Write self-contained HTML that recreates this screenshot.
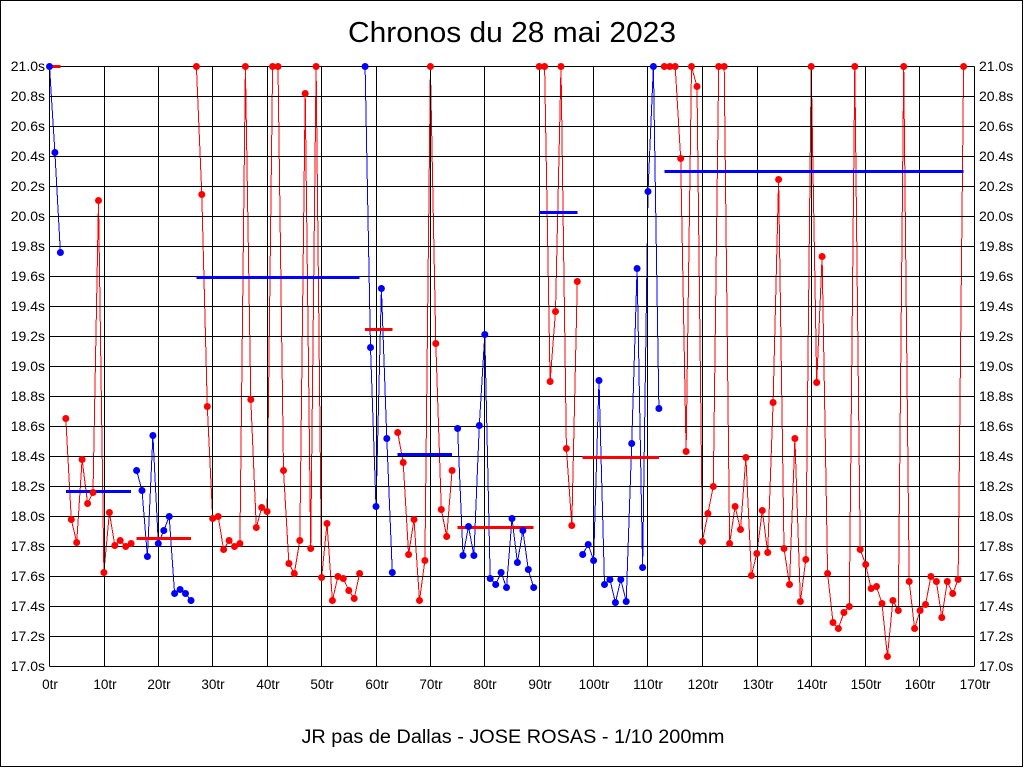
<!DOCTYPE html>
<html>
<head>
<meta charset="utf-8">
<style>
html,body{margin:0;padding:0;background:#fff;}
svg{display:block;}
text{font-family:"Liberation Sans",Arial,sans-serif;fill:#000;}
</style>
</head>
<body>
<svg width="1024" height="768" viewBox="0 0 1024 768" xmlns="http://www.w3.org/2000/svg">
<rect x="0" y="0" width="1024" height="768" fill="#fff"/>
<rect x="0.5" y="0.5" width="1022" height="766" fill="none" stroke="#000" stroke-width="1" shape-rendering="crispEdges"/>

<text x="512" y="42" font-size="29" text-anchor="middle" textLength="328" lengthAdjust="spacingAndGlyphs">Chronos du 28 mai 2023</text>
<text x="513" y="743" font-size="19" text-anchor="middle" textLength="423" lengthAdjust="spacingAndGlyphs">JR pas de Dallas - JOSE ROSAS - 1/10 200mm</text>

<g transform="translate(0.5,0.5)">
<!-- series lines -->
<g fill="none" stroke-width="1" shape-rendering="crispEdges">
<polyline stroke="#0000ff" points="49,66 54.4,152 59.9,252"/>
<polyline stroke="#ff0000" points="65.3,418 70.8,519 76.2,542 81.6,459 87.1,503 92.5,492 98,200 103.4,572 108.9,512 114.3,545 119.7,540 125.2,546 130.6,543"/>
<polyline stroke="#0000ff" points="136.1,470 141.5,490 146.9,556 152.4,435 157.8,543 163.3,530 168.7,516 174.1,593 179.6,589 185,593 190.5,600"/>
<polyline stroke="#ff0000" points="195.9,66 201.3,194 206.8,406 212.2,518 217.7,516 223.1,549 228.6,540 234,546 239.4,543 244.9,66 250.3,399 255.8,527 261.2,507 266.6,511 272.1,66 277.5,66 283,470 288.4,563 293.8,573 299.3,540 304.7,93 310.2,548 315.6,66 321.1,577 326.5,523 331.9,600 337.4,576 342.8,578 348.3,590 353.7,598 359.1,573"/>
<polyline stroke="#0000ff" points="364.6,66 370,347 375.5,506 380.9,288 386.3,438 391.8,572"/>
<polyline stroke="#ff0000" points="397.2,432 402.7,462 408.1,554 413.5,519 419,600 424.4,560 429.9,66 435.3,343 440.8,509 446.2,536 451.6,470"/>
<polyline stroke="#0000ff" points="457.1,428 462.5,555 468,526 473.4,555 478.8,425 484.3,334 489.7,578 495.2,584 500.6,572 506,587 511.5,518 516.9,562 522.4,530 527.8,569 533.2,587"/>
<polyline stroke="#ff0000" points="538.7,66 544.1,66 549.6,381 555,311 560.5,66 565.9,448 571.3,525 576.8,281"/>
<polyline stroke="#0000ff" points="582.2,554 587.7,544 593.1,560 598.5,380 604,584 609.4,579 614.9,602 620.3,579 625.7,601 631.2,443 636.6,268 642.1,567 647.5,191 652.9,66 658.4,408"/>
<polyline stroke="#ff0000" points="663.8,66 669.3,66 674.7,66 680.2,158 685.6,451 691,66 696.5,86 701.9,541 707.4,513 712.8,486 718.2,66 723.7,66 729.1,543 734.6,506 740,529 745.4,457 750.9,575 756.3,553 761.8,510 767.2,552 772.6,402 778.1,179 783.5,548 789,584 794.4,438 799.9,601 805.3,559 810.7,66 816.2,382 821.6,256 827.1,573 832.5,622 837.9,628 843.4,612 848.8,606 854.3,66 859.7,549 865.2,564 870.6,588 876,586 881.5,603 886.9,656 892.4,600 897.8,610 903.2,66 908.7,581 914.1,628 919.6,610 925,604 930.4,576 935.9,581 941.3,617 946.8,581 952.2,593 957.6,579 963.1,66"/>
</g>

<!-- grid -->
<g stroke="#000" stroke-width="1" shape-rendering="crispEdges">
<line x1="49" y1="66" x2="974" y2="66"/>
<line x1="49" y1="96" x2="974" y2="96"/>
<line x1="49" y1="126" x2="974" y2="126"/>
<line x1="49" y1="156" x2="974" y2="156"/>
<line x1="49" y1="186" x2="974" y2="186"/>
<line x1="49" y1="216" x2="974" y2="216"/>
<line x1="49" y1="246" x2="974" y2="246"/>
<line x1="49" y1="276" x2="974" y2="276"/>
<line x1="49" y1="306" x2="974" y2="306"/>
<line x1="49" y1="336" x2="974" y2="336"/>
<line x1="49" y1="366" x2="974" y2="366"/>
<line x1="49" y1="396" x2="974" y2="396"/>
<line x1="49" y1="426" x2="974" y2="426"/>
<line x1="49" y1="456" x2="974" y2="456"/>
<line x1="49" y1="486" x2="974" y2="486"/>
<line x1="49" y1="516" x2="974" y2="516"/>
<line x1="49" y1="546" x2="974" y2="546"/>
<line x1="49" y1="576" x2="974" y2="576"/>
<line x1="49" y1="606" x2="974" y2="606"/>
<line x1="49" y1="636" x2="974" y2="636"/>
<line x1="49" y1="666" x2="974" y2="666"/>
<line x1="49" y1="66" x2="49" y2="666"/>
<line x1="104" y1="66" x2="104" y2="666"/>
<line x1="158" y1="66" x2="158" y2="666"/>
<line x1="212" y1="66" x2="212" y2="666"/>
<line x1="267" y1="66" x2="267" y2="666"/>
<line x1="321" y1="66" x2="321" y2="666"/>
<line x1="376" y1="66" x2="376" y2="666"/>
<line x1="430" y1="66" x2="430" y2="666"/>
<line x1="484" y1="66" x2="484" y2="666"/>
<line x1="539" y1="66" x2="539" y2="666"/>
<line x1="593" y1="66" x2="593" y2="666"/>
<line x1="647" y1="66" x2="647" y2="666"/>
<line x1="702" y1="66" x2="702" y2="666"/>
<line x1="757" y1="66" x2="757" y2="666"/>
<line x1="811" y1="66" x2="811" y2="666"/>
<line x1="865" y1="66" x2="865" y2="666"/>
<line x1="919" y1="66" x2="919" y2="666"/>
<line x1="974" y1="66" x2="974" y2="666"/>
</g>

<!-- average bars -->
<g stroke-width="3" shape-rendering="crispEdges">
<line stroke="#ff0000" x1="49" y1="66" x2="60" y2="66"/>
<line stroke="#0000ff" x1="65.3" y1="491" x2="130.6" y2="491"/>
<line stroke="#ff0000" x1="136.1" y1="538" x2="190.5" y2="538"/>
<line stroke="#0000ff" x1="195.9" y1="277" x2="359.1" y2="277"/>
<line stroke="#ff0000" x1="364.6" y1="329" x2="391.8" y2="329"/>
<line stroke="#0000ff" x1="397.2" y1="454" x2="451.6" y2="454"/>
<line stroke="#ff0000" x1="457.1" y1="527" x2="533.2" y2="527"/>
<line stroke="#0000ff" x1="538.7" y1="212" x2="576.8" y2="212"/>
<line stroke="#ff0000" x1="582.2" y1="457" x2="658.4" y2="457"/>
<line stroke="#0000ff" x1="663.8" y1="171" x2="963.1" y2="171"/>
</g>

<!-- dots -->
<g fill="#0000ff">
<circle cx="49" cy="66" r="3.5"/><circle cx="54.4" cy="152" r="3.5"/><circle cx="59.9" cy="252" r="3.5"/>
<circle cx="136.1" cy="470" r="3.5"/><circle cx="141.5" cy="490" r="3.5"/><circle cx="146.9" cy="556" r="3.5"/><circle cx="152.4" cy="435" r="3.5"/><circle cx="157.8" cy="543" r="3.5"/><circle cx="163.3" cy="530" r="3.5"/><circle cx="168.7" cy="516" r="3.5"/><circle cx="174.1" cy="593" r="3.5"/><circle cx="179.6" cy="589" r="3.5"/><circle cx="185" cy="593" r="3.5"/><circle cx="190.5" cy="600" r="3.5"/>
<circle cx="364.6" cy="66" r="3.5"/><circle cx="370" cy="347" r="3.5"/><circle cx="375.5" cy="506" r="3.5"/><circle cx="380.9" cy="288" r="3.5"/><circle cx="386.3" cy="438" r="3.5"/><circle cx="391.8" cy="572" r="3.5"/>
<circle cx="457.1" cy="428" r="3.5"/><circle cx="462.5" cy="555" r="3.5"/><circle cx="468" cy="526" r="3.5"/><circle cx="473.4" cy="555" r="3.5"/><circle cx="478.8" cy="425" r="3.5"/><circle cx="484.3" cy="334" r="3.5"/><circle cx="489.7" cy="578" r="3.5"/><circle cx="495.2" cy="584" r="3.5"/><circle cx="500.6" cy="572" r="3.5"/><circle cx="506" cy="587" r="3.5"/><circle cx="511.5" cy="518" r="3.5"/><circle cx="516.9" cy="562" r="3.5"/><circle cx="522.4" cy="530" r="3.5"/><circle cx="527.8" cy="569" r="3.5"/><circle cx="533.2" cy="587" r="3.5"/>
<circle cx="582.2" cy="554" r="3.5"/><circle cx="587.7" cy="544" r="3.5"/><circle cx="593.1" cy="560" r="3.5"/><circle cx="598.5" cy="380" r="3.5"/><circle cx="604" cy="584" r="3.5"/><circle cx="609.4" cy="579" r="3.5"/><circle cx="614.9" cy="602" r="3.5"/><circle cx="620.3" cy="579" r="3.5"/><circle cx="625.7" cy="601" r="3.5"/><circle cx="631.2" cy="443" r="3.5"/><circle cx="636.6" cy="268" r="3.5"/><circle cx="642.1" cy="567" r="3.5"/><circle cx="647.5" cy="191" r="3.5"/><circle cx="652.9" cy="66" r="3.5"/><circle cx="658.4" cy="408" r="3.5"/>
</g>
<g fill="#ff0000">
<circle cx="65.3" cy="418" r="3.5"/><circle cx="70.8" cy="519" r="3.5"/><circle cx="76.2" cy="542" r="3.5"/><circle cx="81.6" cy="459" r="3.5"/><circle cx="87.1" cy="503" r="3.5"/><circle cx="92.5" cy="492" r="3.5"/><circle cx="98" cy="200" r="3.5"/><circle cx="103.4" cy="572" r="3.5"/><circle cx="108.9" cy="512" r="3.5"/><circle cx="114.3" cy="545" r="3.5"/><circle cx="119.7" cy="540" r="3.5"/><circle cx="125.2" cy="546" r="3.5"/><circle cx="130.6" cy="543" r="3.5"/>
<circle cx="195.9" cy="66" r="3.5"/><circle cx="201.3" cy="194" r="3.5"/><circle cx="206.8" cy="406" r="3.5"/><circle cx="212.2" cy="518" r="3.5"/><circle cx="217.7" cy="516" r="3.5"/><circle cx="223.1" cy="549" r="3.5"/><circle cx="228.6" cy="540" r="3.5"/><circle cx="234" cy="546" r="3.5"/><circle cx="239.4" cy="543" r="3.5"/><circle cx="244.9" cy="66" r="3.5"/><circle cx="250.3" cy="399" r="3.5"/><circle cx="255.8" cy="527" r="3.5"/><circle cx="261.2" cy="507" r="3.5"/><circle cx="266.6" cy="511" r="3.5"/><circle cx="272.1" cy="66" r="3.5"/><circle cx="277.5" cy="66" r="3.5"/><circle cx="283" cy="470" r="3.5"/><circle cx="288.4" cy="563" r="3.5"/><circle cx="293.8" cy="573" r="3.5"/><circle cx="299.3" cy="540" r="3.5"/><circle cx="304.7" cy="93" r="3.5"/><circle cx="310.2" cy="548" r="3.5"/><circle cx="315.6" cy="66" r="3.5"/><circle cx="321.1" cy="577" r="3.5"/><circle cx="326.5" cy="523" r="3.5"/><circle cx="331.9" cy="600" r="3.5"/><circle cx="337.4" cy="576" r="3.5"/><circle cx="342.8" cy="578" r="3.5"/><circle cx="348.3" cy="590" r="3.5"/><circle cx="353.7" cy="598" r="3.5"/><circle cx="359.1" cy="573" r="3.5"/>
<circle cx="397.2" cy="432" r="3.5"/><circle cx="402.7" cy="462" r="3.5"/><circle cx="408.1" cy="554" r="3.5"/><circle cx="413.5" cy="519" r="3.5"/><circle cx="419" cy="600" r="3.5"/><circle cx="424.4" cy="560" r="3.5"/><circle cx="429.9" cy="66" r="3.5"/><circle cx="435.3" cy="343" r="3.5"/><circle cx="440.8" cy="509" r="3.5"/><circle cx="446.2" cy="536" r="3.5"/><circle cx="451.6" cy="470" r="3.5"/>
<circle cx="538.7" cy="66" r="3.5"/><circle cx="544.1" cy="66" r="3.5"/><circle cx="549.6" cy="381" r="3.5"/><circle cx="555" cy="311" r="3.5"/><circle cx="560.5" cy="66" r="3.5"/><circle cx="565.9" cy="448" r="3.5"/><circle cx="571.3" cy="525" r="3.5"/><circle cx="576.8" cy="281" r="3.5"/>
<circle cx="663.8" cy="66" r="3.5"/><circle cx="669.3" cy="66" r="3.5"/><circle cx="674.7" cy="66" r="3.5"/><circle cx="680.2" cy="158" r="3.5"/><circle cx="685.6" cy="451" r="3.5"/><circle cx="691" cy="66" r="3.5"/><circle cx="696.5" cy="86" r="3.5"/><circle cx="701.9" cy="541" r="3.5"/><circle cx="707.4" cy="513" r="3.5"/><circle cx="712.8" cy="486" r="3.5"/><circle cx="718.2" cy="66" r="3.5"/><circle cx="723.7" cy="66" r="3.5"/><circle cx="729.1" cy="543" r="3.5"/><circle cx="734.6" cy="506" r="3.5"/><circle cx="740" cy="529" r="3.5"/><circle cx="745.4" cy="457" r="3.5"/><circle cx="750.9" cy="575" r="3.5"/><circle cx="756.3" cy="553" r="3.5"/><circle cx="761.8" cy="510" r="3.5"/><circle cx="767.2" cy="552" r="3.5"/><circle cx="772.6" cy="402" r="3.5"/><circle cx="778.1" cy="179" r="3.5"/><circle cx="783.5" cy="548" r="3.5"/><circle cx="789" cy="584" r="3.5"/><circle cx="794.4" cy="438" r="3.5"/><circle cx="799.9" cy="601" r="3.5"/><circle cx="805.3" cy="559" r="3.5"/><circle cx="810.7" cy="66" r="3.5"/><circle cx="816.2" cy="382" r="3.5"/><circle cx="821.6" cy="256" r="3.5"/><circle cx="827.1" cy="573" r="3.5"/><circle cx="832.5" cy="622" r="3.5"/><circle cx="837.9" cy="628" r="3.5"/><circle cx="843.4" cy="612" r="3.5"/><circle cx="848.8" cy="606" r="3.5"/><circle cx="854.3" cy="66" r="3.5"/><circle cx="859.7" cy="549" r="3.5"/><circle cx="865.2" cy="564" r="3.5"/><circle cx="870.6" cy="588" r="3.5"/><circle cx="876" cy="586" r="3.5"/><circle cx="881.5" cy="603" r="3.5"/><circle cx="886.9" cy="656" r="3.5"/><circle cx="892.4" cy="600" r="3.5"/><circle cx="897.8" cy="610" r="3.5"/><circle cx="903.2" cy="66" r="3.5"/><circle cx="908.7" cy="581" r="3.5"/><circle cx="914.1" cy="628" r="3.5"/><circle cx="919.6" cy="610" r="3.5"/><circle cx="925" cy="604" r="3.5"/><circle cx="930.4" cy="576" r="3.5"/><circle cx="935.9" cy="581" r="3.5"/><circle cx="941.3" cy="617" r="3.5"/><circle cx="946.8" cy="581" r="3.5"/><circle cx="952.2" cy="593" r="3.5"/><circle cx="957.6" cy="579" r="3.5"/><circle cx="963.1" cy="66" r="3.5"/>
</g>
</g>

<!-- left y labels -->
<g font-size="14" text-anchor="end">
<text x="45" y="71">21.0s</text>
<text x="45" y="101">20.8s</text>
<text x="45" y="131">20.6s</text>
<text x="45" y="161">20.4s</text>
<text x="45" y="191">20.2s</text>
<text x="45" y="221">20.0s</text>
<text x="45" y="251">19.8s</text>
<text x="45" y="281">19.6s</text>
<text x="45" y="311">19.4s</text>
<text x="45" y="341">19.2s</text>
<text x="45" y="371">19.0s</text>
<text x="45" y="401">18.8s</text>
<text x="45" y="431">18.6s</text>
<text x="45" y="461">18.4s</text>
<text x="45" y="491">18.2s</text>
<text x="45" y="521">18.0s</text>
<text x="45" y="551">17.8s</text>
<text x="45" y="581">17.6s</text>
<text x="45" y="611">17.4s</text>
<text x="45" y="641">17.2s</text>
<text x="45" y="671">17.0s</text>
</g>
<!-- right y labels -->
<g font-size="14" text-anchor="start">
<text x="979" y="71">21.0s</text>
<text x="979" y="101">20.8s</text>
<text x="979" y="131">20.6s</text>
<text x="979" y="161">20.4s</text>
<text x="979" y="191">20.2s</text>
<text x="979" y="221">20.0s</text>
<text x="979" y="251">19.8s</text>
<text x="979" y="281">19.6s</text>
<text x="979" y="311">19.4s</text>
<text x="979" y="341">19.2s</text>
<text x="979" y="371">19.0s</text>
<text x="979" y="401">18.8s</text>
<text x="979" y="431">18.6s</text>
<text x="979" y="461">18.4s</text>
<text x="979" y="491">18.2s</text>
<text x="979" y="521">18.0s</text>
<text x="979" y="551">17.8s</text>
<text x="979" y="581">17.6s</text>
<text x="979" y="611">17.4s</text>
<text x="979" y="641">17.2s</text>
<text x="979" y="671">17.0s</text>
</g>
<!-- x labels -->
<g font-size="13.5" text-anchor="middle">
<text x="50" y="689">0tr</text>
<text x="105" y="689">10tr</text>
<text x="159" y="689">20tr</text>
<text x="213" y="689">30tr</text>
<text x="268" y="689">40tr</text>
<text x="322" y="689">50tr</text>
<text x="377" y="689">60tr</text>
<text x="431" y="689">70tr</text>
<text x="485" y="689">80tr</text>
<text x="540" y="689">90tr</text>
<text x="594" y="689">100tr</text>
<text x="648" y="689">110tr</text>
<text x="703" y="689">120tr</text>
<text x="758" y="689">130tr</text>
<text x="812" y="689">140tr</text>
<text x="866" y="689">150tr</text>
<text x="920" y="689">160tr</text>
<text x="975" y="689">170tr</text>
</g>
</svg>
</body>
</html>
